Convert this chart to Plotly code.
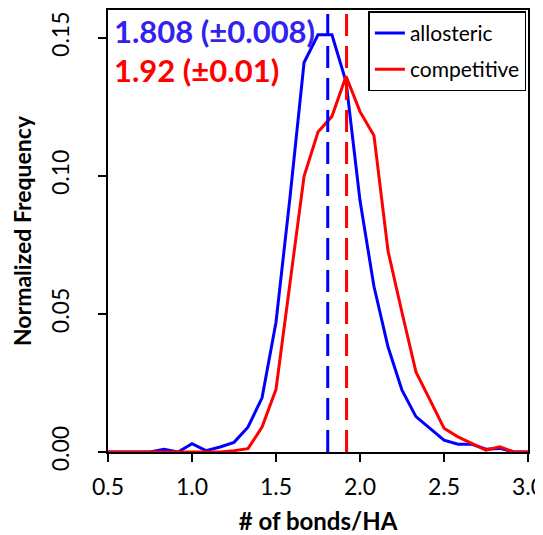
import plotly.graph_objects as go

# bin centres (# of bonds / HA)
bins = [0.5, 0.583, 0.667, 0.75, 0.833, 0.917, 1.0, 1.083, 1.167, 1.25, 1.333,
        1.417, 1.5, 1.583, 1.667, 1.75, 1.833, 1.917, 2.0, 2.083, 2.167,
        2.25, 2.333, 2.417, 2.5, 2.583, 2.667, 2.75, 2.833, 2.917, 3.0]

allosteric = [0, 0, 0.0002, 0, 0.001, 0, 0.003, 0.0005, 0.0018, 0.0035, 0.009,
              0.0196, 0.047, 0.092, 0.141, 0.151, 0.151, 0.134, 0.091, 0.060, 0.038,
              0.0224, 0.0128, 0.0086, 0.0043, 0.0028, 0.0028, 0.001, 0.0013, 0, 0]

competitive = [0, 0, 0, 0, 0, 0, 0, 0, 0, 0.0005, 0.0012,
               0.009, 0.0227, 0.061, 0.0998, 0.1158, 0.1215, 0.136, 0.1232, 0.1146, 0.0727,
               0.0505, 0.029, 0.0188, 0.0086, 0.0055, 0.0031, 0.0007, 0.0019, 0, 0]

series_names = ["allosteric", "competitive"]
means = [1.808, 1.92]
errors = ["0.008", "0.01"]
mean_labels = ["1.808", "1.92"]
line_colors = ["#0000ff", "#ff0000"]
text_colors = ["#3322ee", "#ff0000"]

x_ticks = [0.5, 1.0, 1.5, 2.0, 2.5, 3.0]
y_ticks = [0.00, 0.05, 0.10, 0.15]
y_max = 0.16

FONT = "Lato"

fig = go.Figure()
for name, vals, col in zip(series_names, [allosteric, competitive], line_colors):
    fig.add_trace(go.Scatter(x=bins, y=vals, mode="lines", name=name,
                             legendgroup=name,
                             line=dict(color=col, width=3)))

for m, col in zip(means, line_colors):
    fig.add_trace(go.Scatter(x=[m, m], y=[0, y_max], mode="lines", showlegend=False,
                             line=dict(color=col, width=3, dash="22px,10px"),
                             hoverinfo="skip"))

ann_y = [0.952, 0.864]
for lab, err, col, yy in zip(mean_labels, errors, text_colors, ann_y):
    fig.add_annotation(xref="paper", yref="paper", x=0.01, y=yy,
                       xanchor="left", yanchor="middle", showarrow=False,
                       text=f"<b>{lab} (±{err})</b>",
                       font=dict(family=FONT, size=31, color=col))

# the page body adds an 8px offset, so the figure is 8px smaller on each side
fig.update_layout(
    width=535, height=527,
    margin=dict(l=100, r=15, t=2, b=83),
    paper_bgcolor="white", plot_bgcolor="white",
    font=dict(family=FONT, size=22, color="black"),
    showlegend=True,
    legend=dict(x=0.62, y=0.997, xanchor="left", yanchor="top",
                bordercolor="black", borderwidth=1.5, bgcolor="white",
                font=dict(family=FONT, size=21, color="black"),
                itemwidth=30, tracegroupgap=6),
    xaxis=dict(range=[0.5, 3.0], tickvals=x_ticks,
               ticktext=[f"{v:.1f}" for v in x_ticks],
               showline=True, linecolor="black", linewidth=1.5, mirror=True,
               ticks="outside", ticklen=8, tickwidth=1.5, tickcolor="black",
               showgrid=False, zeroline=False, automargin=False,
               ticklabeloverflow="allow", ticklabelstandoff=6,
               tickfont=dict(family=FONT, size=23),
               title=dict(text="<b># of bonds/HA</b>", standoff=26,
                          font=dict(family=FONT, size=24))),
    yaxis=dict(range=[0, y_max], tickvals=y_ticks,
               ticktext=[f"{v:.2f}" for v in y_ticks],
               showline=True, linecolor="black", linewidth=1.5, mirror=True,
               ticks="outside", ticklen=8, tickwidth=1.5, tickcolor="black",
               showgrid=False, zeroline=False, tickangle=-90, automargin=False,
               ticklabeloverflow="allow",
               ticklabelstandoff=20,
               tickfont=dict(family=FONT, size=23),
               title=dict(text="<b>Normalized Frequency</b>", standoff=10,
                          font=dict(family=FONT, size=23))),
)

fig.write_html("out.html")
